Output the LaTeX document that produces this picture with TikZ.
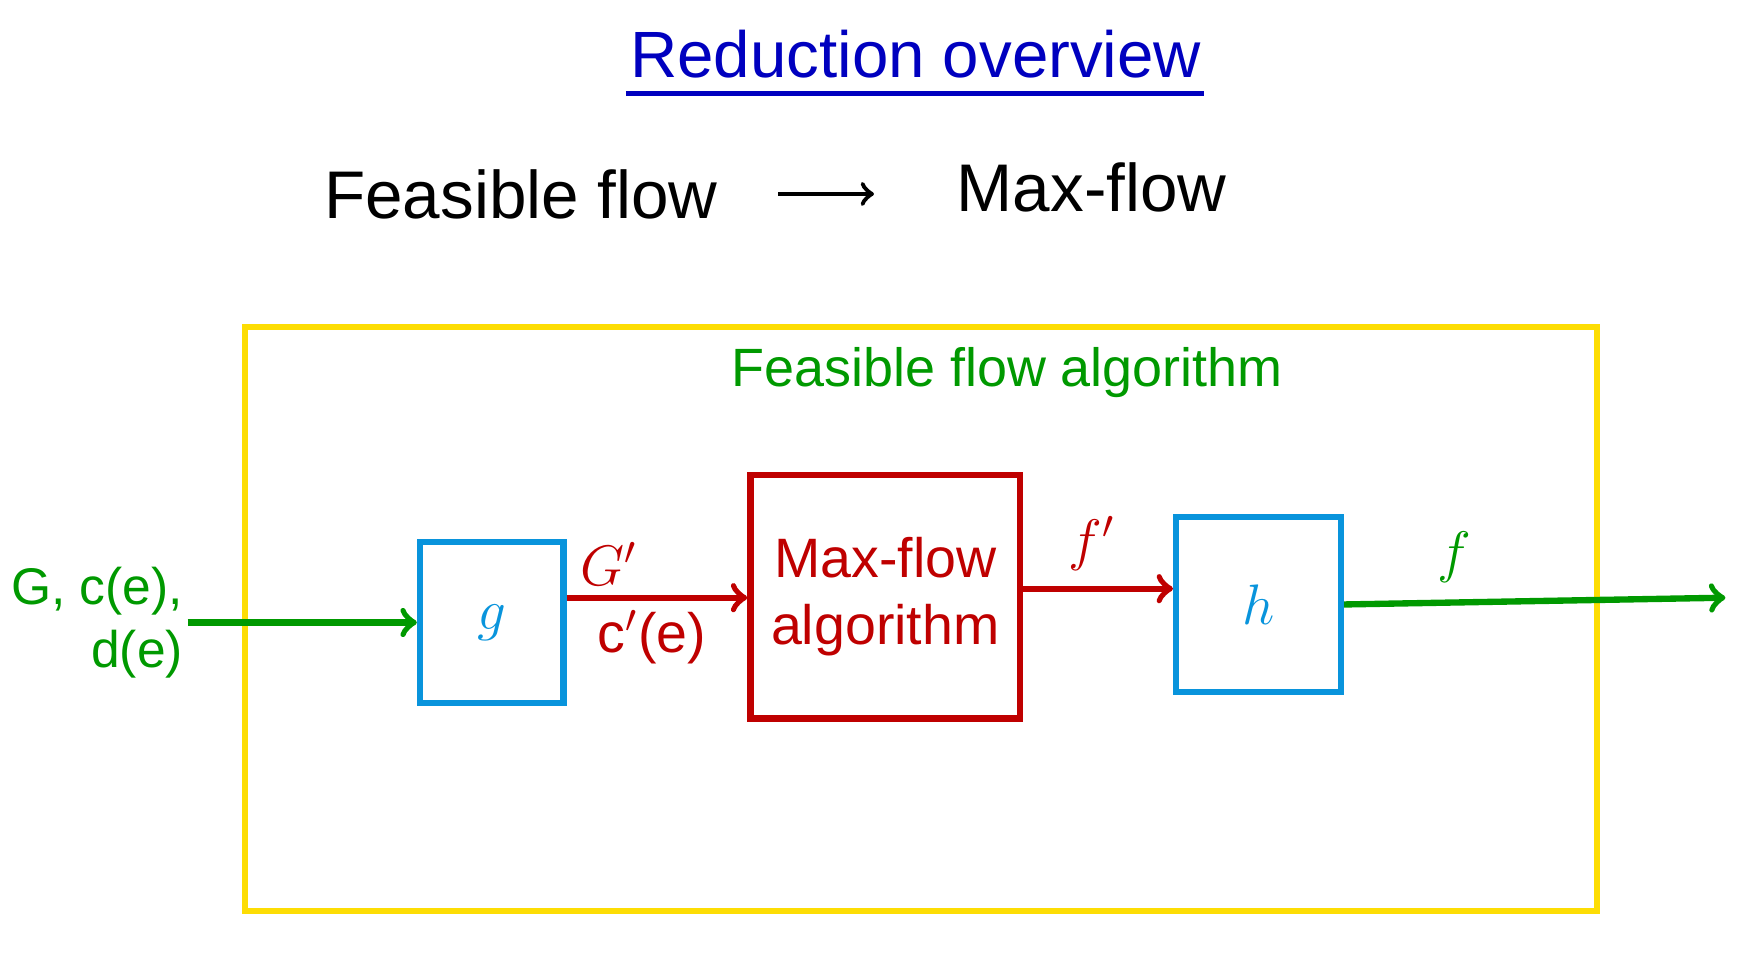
\documentclass[tikz,border=0pt]{standalone}
\usepackage{fontspec}
\setmainfont{Liberation Sans}
\usetikzlibrary{positioning}
\begin{document}
\begin{tikzpicture}[x=0.01cm,y=-0.01cm,
	box/.style={draw, line width=1.6pt, inner sep=0pt},
	flowarrow/.style={->, line width=1.6pt},
	lbl/.style={font=\fontsize{14}{17}\selectfont}]

	\colorlet{penblue}{blue!75!black}
	\colorlet{pengreen}{green!60!black}
	\colorlet{penred}{red!75!black}
	\colorlet{pencyan}{cyan!80!blue}
	\colorlet{penyellow}{yellow!80!orange}

	\useasboundingbox (0,0) rectangle (1550,846);

	% headings
	\node[penblue, font=\fontsize{16.5}{19}\selectfont] (title) at (812,48) {Reduction overview};
	\draw[penblue, line width=1.4pt] (555,83) -- (1068,83);
	\node[font=\fontsize{17}{20}\selectfont] (feas) at (462,172) {Feasible flow};
	\node[font=\fontsize{17}{20}\selectfont] (maxf) at (968,166) {Max-flow};
	\draw[flowarrow, line width=1.2pt] (690,172) -- (775,172);

	% outer frame
	\draw[penyellow, line width=1.6pt] (217,290) rectangle (1416,808);
	\node[pengreen, font=\fontsize{13.6}{16}\selectfont] (algo) at (893,330) {Feasible flow algorithm};

	% boxes
	\node[box, pencyan, minimum width=1.27cm, minimum height=1.43cm, lbl] (g) at (436,552) {$g$};
	\node[box, penred, minimum width=2.39cm, minimum height=2.16cm, align=center, lbl] (mf) at (785,529) {Max-flow\\algorithm};
	\node[box, pencyan, minimum width=1.46cm, minimum height=1.55cm, lbl] (h) at (1116,536) {$h$};

	% connectors
	\node[pengreen, font=\fontsize{13}{16}\selectfont, align=right, inner sep=1pt] (input) at (86,552) {G, c(e),\\d(e)};
	\draw[flowarrow, pengreen] (input.east) -- (g.west);
	\draw[flowarrow, penred] (g.east |- 0,530) -- (mf.west |- 0,530);
	\node[penred, lbl] (gp) at (540,500) {$G'$};
	\node[penred, lbl] (cp) at (578,565) {c$'$(e)};
	\draw[flowarrow, penred] (mf.east |- 0,522) -- (h.west |- 0,522);
	\node[penred, lbl] (fp) at (968,482) {$f'$};
	\coordinate (out) at (1530,530);
	\draw[flowarrow, pengreen] (h.east |- 0,536) -- (out);
	\node[pengreen, lbl] (f) at (1290,494) {$f$};

\end{tikzpicture}
\end{document}
